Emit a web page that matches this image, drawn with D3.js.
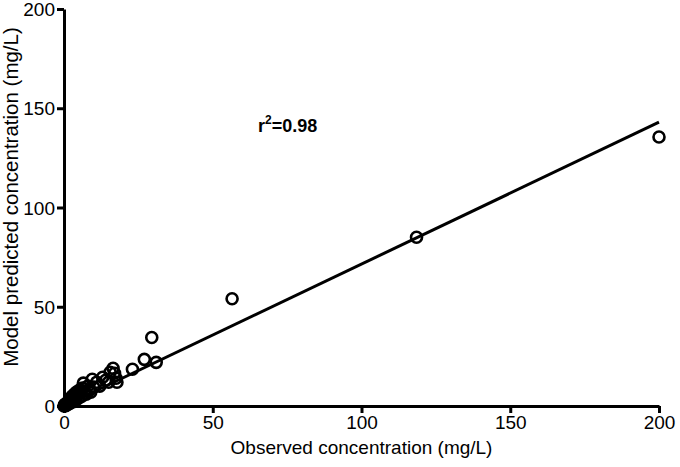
<!DOCTYPE html>
<html>
<head>
<meta charset="utf-8">
<script src="https://cdn.jsdelivr.net/npm/d3@7"></script>
<style>
  body { margin: 0; background: #fff; }
  text { font-family: "Liberation Sans", Arial, sans-serif; }
</style>
</head>
<body>
<div id="chart"></div>
<script>
var width = 680
var height = 467
var margin = {top: 9, right: 21, bottom: 61, left: 64}

// observed vs model predicted (mg/L)
var observed = [0, 0.1, 0.2, 0.3, 0.5, 0.6, 0.8, 1, 1.2, 1.5, 1.8, 2, 2.2, 2.5, 2.8, 3, 3.2, 3.5, 3.8, 4,
  4.2, 4.5, 5, 5.2, 5.5, 6, 6.2, 6.5, 7, 7.5, 8, 8.5, 9, 9.5, 10, 11, 12, 13, 14, 15,
  15.5, 16.5, 17, 17.5, 17.8, 23, 27, 29.5, 31, 56.5, 118.5, 200]
var predicted = [0, 0.1, 0.3, 0.8, 0.4, 0.2, 1, 0.6, 1.5, 2.5, 1.2, 3, 4, 2, 5, 3.5, 2.2, 6, 4.5, 3,
  7, 5.5, 4, 8, 6.5, 5, 9, 11.5, 7.5, 6, 10, 8, 7, 13.5, 9.5, 12, 10, 14.5, 13, 12,
  17, 19, 16.5, 14, 12, 18.5, 23.5, 34.5, 22, 54, 85, 135.5]

// fitted line end points
var fitX = [0, 200]
var fitY = [0, 143]

var xTicks = [0, 50, 100, 150, 200]
var yTicks = [0, 50, 100, 150, 200]

var svg = d3.select("#chart")
  .append("svg")
    .attr("width", width)
    .attr("height", height)

var x = d3.scaleLinear().domain([0, 200]).range([margin.left, width - margin.right])
var y = d3.scaleLinear().domain([0, 200]).range([height - margin.bottom, margin.top])

var xAxis = svg.append("g")
  .attr("transform", "translate(0," + y(0) + ")")
  .call(d3.axisBottom(x).tickValues(xTicks).tickSize(7).tickPadding(3).tickSizeOuter(0))

var yAxis = svg.append("g")
  .attr("transform", "translate(" + x(0) + ",0)")
  .call(d3.axisLeft(y).tickValues(yTicks).tickSize(7).tickPadding(2).tickSizeOuter(0))

svg.selectAll(".domain").attr("stroke", "#000").attr("stroke-width", 3)
svg.selectAll(".tick line").attr("stroke", "#000").attr("stroke-width", 3)
svg.selectAll(".tick text").attr("font-size", 19).attr("fill", "#000")
  .attr("font-family", "'Liberation Sans', Arial, sans-serif")
yAxis.selectAll(".tick text").attr("dy", "0.35em")

// points
svg.append("g")
  .selectAll("circle")
  .data(observed)
  .enter()
  .append("circle")
    .attr("cx", function(d) { return x(d) })
    .attr("cy", function(d, i) { return y(predicted[i]) })
    .attr("r", 5.5)
    .attr("fill", "none")
    .attr("stroke", "#000")
    .attr("stroke-width", 2.6)

// regression line
svg.append("line")
  .attr("x1", x(fitX[0]))
  .attr("y1", y(fitY[0]))
  .attr("x2", x(fitX[1]))
  .attr("y2", y(fitY[1]))
  .attr("stroke", "#000")
  .attr("stroke-width", 3)

// r squared label
var r2 = svg.append("text")
  .attr("x", 258)
  .attr("y", 132)
  .attr("font-size", 18)
  .attr("font-weight", "bold")
r2.append("tspan").text("r")
r2.append("tspan").attr("font-size", 12).attr("dy", -8).text("2")
r2.append("tspan").attr("dy", 8).text("=0.98")

// axis titles
svg.append("text")
  .attr("x", (margin.left + width - margin.right) / 2)
  .attr("y", 454)
  .attr("text-anchor", "middle")
  .attr("font-size", 19)
  .text("Observed concentration (mg/L)")

svg.append("text")
  .attr("transform", "translate(18,197) rotate(-90)")
  .attr("text-anchor", "middle")
  .attr("font-size", 20.5)
  .text("Model predicted concentration (mg/L)")
</script>
</body>
</html>
